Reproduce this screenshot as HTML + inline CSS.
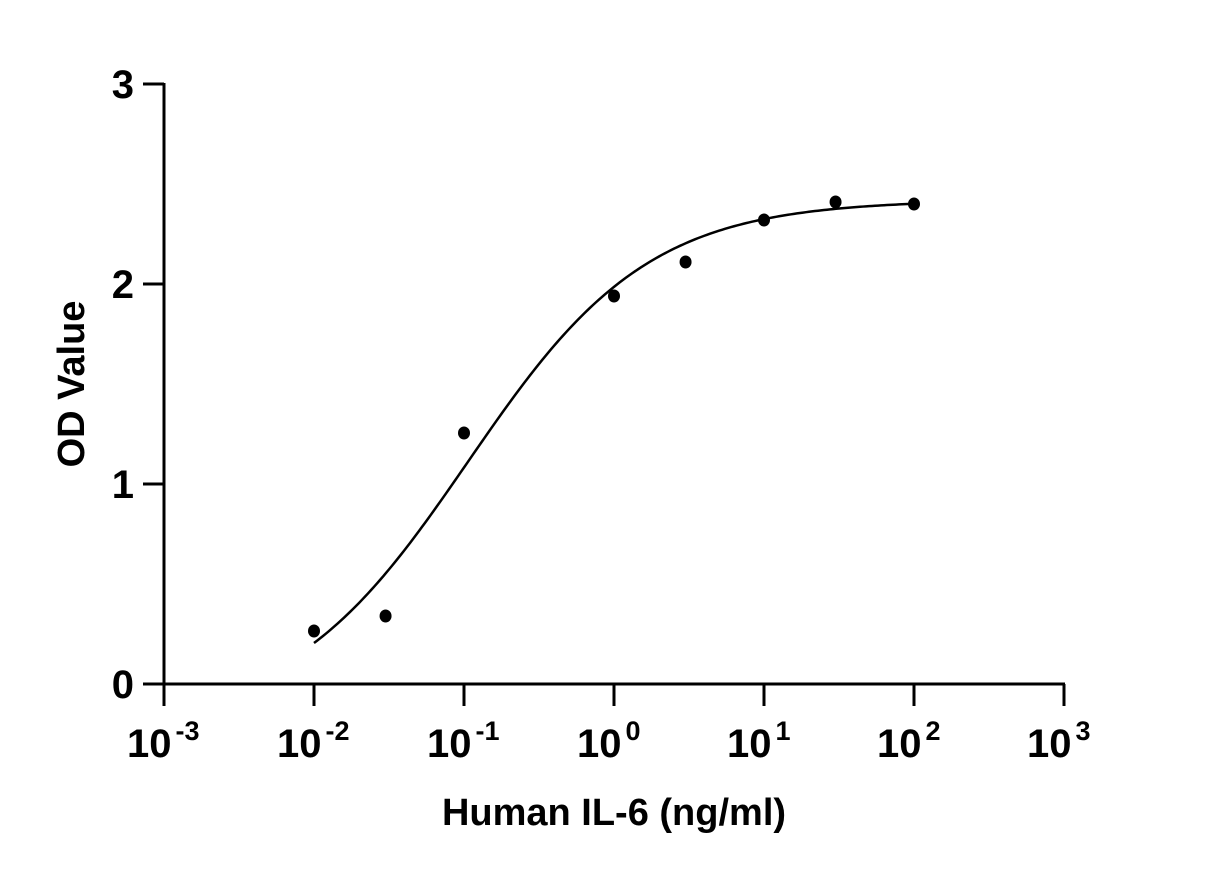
<!DOCTYPE html>
<html><head><meta charset="utf-8"><style>
html,body{margin:0;padding:0;background:#fff;}
svg{display:block;font-family:"Liberation Sans",Arial,sans-serif;font-weight:bold;}
</style></head><body>
<svg id="chart" width="1207" height="878" viewBox="0 0 1207 878">
<g id="axes"></g>
<g id="marks"></g>
<text x="614" y="825" font-size="38" text-anchor="middle">Human IL-6 (ng/ml)</text>
<text transform="translate(84,384) rotate(-90)" font-size="38" text-anchor="middle">OD Value</text>
</svg>
<script>
const concentrations = [0.01, 0.03, 0.1, 1, 3, 10, 30, 100];
const odValues = [0.265, 0.34, 1.255, 1.94, 2.11, 2.32, 2.41, 2.40];
const xTickExponents = [-3, -2, -1, 0, 1, 2, 3];
const yTicks = [0, 1, 2, 3];
const fitBottom = -0.2, fitTop = 2.42, fitEC50 = 0.106, fitHill = 0.72;

const NS = "http://www.w3.org/2000/svg";
const X0 = 164, X1 = 1064, Y0 = 684, Y1 = 84;
const xMinLog = -3, xMaxLog = 3, yMin = 0, yMax = 3;
function xScale(v){ return X0 + (Math.log10(v) - xMinLog) / (xMaxLog - xMinLog) * (X1 - X0); }
function yScale(v){ return Y0 - (v - yMin) / (yMax - yMin) * (Y0 - Y1); }
function mk(tag, attrs, parent){ const e = document.createElementNS(NS, tag); for (const k in attrs) e.setAttribute(k, attrs[k]); parent.appendChild(e); return e; }
const axes = document.getElementById('axes');
const marks = document.getElementById('marks');

const yAxis = mk('line', {x1:X0, y1:Y1-1, x2:X0, y2:Y0+1, stroke:'#000', 'stroke-width':3}, axes);


const xAxis = mk('line', {x1:X0-1, y1:Y0, x2:X1+1, y2:Y0, stroke:'#000', 'stroke-width':3}, axes);



yTicks.forEach(t => {
  const y = yScale(t);
  const tk = mk('line', {x1:X0-21, y1:y, x2:X0, y2:y, stroke:'#000', 'stroke-width':3}, axes);
  
  
  const lb = mk('text', {x:X0-30, y:y+14, 'font-size':40, 'text-anchor':'end'}, axes);
  lb.textContent = String(t);
  
  
});

xTickExponents.forEach(e => {
  const x = xScale(Math.pow(10, e));
  const tk = mk('line', {x1:x, y1:Y0, x2:x, y2:Y0+22, stroke:'#000', 'stroke-width':3}, axes);
  
  
  const lb = mk('text', {x:x-37, y:757, 'font-size':40}, axes);
  
  
  const base = document.createElementNS(NS, 'tspan'); base.textContent = '10'; lb.appendChild(base);
  const sup = document.createElementNS(NS, 'tspan');
  sup.setAttribute('font-size', '27'); sup.setAttribute('dy', '-17'); sup.setAttribute('dx', '4');
  sup.textContent = String(e); lb.appendChild(sup);
});

function fit(x){ return fitBottom + (fitTop - fitBottom) / (1 + Math.pow(fitEC50 / x, fitHill)); }
let d = '';
const lo = Math.log10(concentrations[0]), hi = Math.log10(concentrations[concentrations.length-1]);
for (let i = 0; i <= 200; i++) {
  const lx = lo + (hi - lo) * i / 200, v = Math.pow(10, lx);
  d += (i ? 'L' : 'M') + xScale(v).toFixed(2) + ',' + yScale(fit(v)).toFixed(2);
}
const curve = mk('path', {d:d, fill:'none', stroke:'#000', 'stroke-width':2.5}, marks);



concentrations.forEach((c, i) => {
  const p = mk('ellipse', {cx:xScale(c), cy:yScale(odValues[i]), rx:6, ry:6.5, fill:'#000'}, marks);
  
  
});
</script>
</body></html>
